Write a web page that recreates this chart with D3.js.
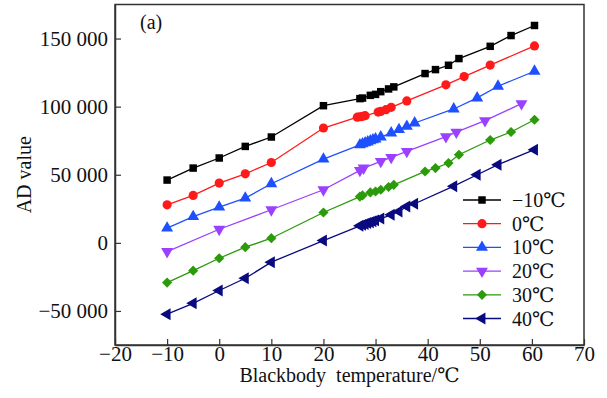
<!DOCTYPE html>
<html>
<head>
<meta charset="utf-8">
<script src="https://cdn.jsdelivr.net/npm/d3@7"></script>
<style>
  body { margin: 0; background: #fff; }
  text { font-family: "Liberation Serif", "Times New Roman", serif; }
  .deg { font-family: "DejaVu Serif", "Liberation Serif", serif; }
</style>
</head>
<body>
<div id="chart"></div>
<script>
// tick values and legend labels
var xTicks = [-20, -10, 0, 10, 20, 30, 40, 50, 60, 70];
var yTicks = [-50000, 0, 50000, 100000, 150000];
var seriesNames = ["−10", "0", "10", "20", "30", "40"];

// blackbody temperatures (x) per series
var xBlack = [-10, -5, 0, 5, 10, 20, 27, 27.5, 29, 30, 31, 32.5, 33.5, 39.5, 41.5, 44, 46, 52, 56, 60.5];
var xRed = [-10, -5, 0, 5, 10, 20, 26.5, 27, 27.5, 28, 30.5, 31, 32, 33, 36, 43.5, 47, 52, 60.5];
var xBlue = [-10, -5, 0, 5, 10, 20, 27, 27.5, 28, 28.5, 29, 29.5, 30, 31, 33, 34.5, 36, 37.5, 45, 49.5, 53.5, 60.5];
var xPurple = [-10, 0, 10, 20, 27, 27.7, 31, 33, 36, 43.5, 45.5, 51, 58];
var xGreen = xBlack;
var xNavy = xBlue;

// AD values per series
var yM10 = [46100, 54900, 62300, 70800, 77700, 100700, 105900, 106300, 108300, 109000, 111000, 113000, 114500, 124300, 127200, 130400, 135300, 144300, 152200, 159600];
var y0 = [27900, 34800, 43900, 50700, 59000, 84300, 92300, 92600, 92900, 93400, 96000, 96500, 97800, 99500, 104200, 116000, 122100, 130500, 144600];
var y10 = [10800, 19300, 26200, 32900, 43400, 61500, 72000, 72700, 73400, 74100, 74900, 75600, 76300, 77700, 80700, 83100, 85500, 88000, 98300, 106400, 115000, 126000];
var y20 = [-6400, 10000, 24300, 39000, 53200, 54900, 59800, 62700, 67100, 78000, 81300, 89700, 102200];
var y30 = [-29200, -20400, -11300, -3200, 3400, 22300, 34000, 34800, 37000, 37700, 39000, 41000, 42600, 52400, 54900, 58600, 64700, 75500, 81400, 90400];
var y40 = [-52400, -44400, -35000, -26000, -14200, 1700, 12500, 13200, 13800, 14500, 15200, 15800, 16500, 17800, 20600, 23000, 26700, 28700, 41600, 50000, 57400, 68400];

var svgWidth = 607;
var svgHeight = 398;
var margin = { top: 4.5, right: 23, bottom: 53, left: 115 };
var width = svgWidth - margin.left - margin.right;
var height = svgHeight - margin.top - margin.bottom;

var svg = d3.select("#chart")
  .append("svg")
  .attr("width", svgWidth)
  .attr("height", svgHeight);

var chartGroup = svg.append("g")
  .attr("transform", `translate(${margin.left}, ${margin.top})`);

var x = d3.scaleLinear().domain([-20, 70]).range([0, width]);
var y = d3.scaleLinear().domain([-75000, 175000]).range([height, 0]);

var loc = d3.formatLocale({ decimal: ".", thousands: " ", grouping: [3], currency: ["", ""], minus: "−" });
var fmt = loc.format(",d");

// frame
chartGroup.append("rect")
  .attr("width", width)
  .attr("height", height)
  .attr("fill", "none")
  .attr("stroke", "#333")
  .attr("stroke-width", 1.5);

// axes with inward ticks
var bottomAxis = d3.axisBottom(x).tickValues(xTicks).tickFormat(fmt).tickSizeInner(-6).tickSizeOuter(0).tickPadding(1.5);
var leftAxis = d3.axisLeft(y).tickValues(yTicks).tickFormat(fmt).tickSizeInner(-6).tickSizeOuter(0).tickPadding(7);

var xAxisG = chartGroup.append("g")
  .attr("transform", `translate(0, ${height})`)
  .call(bottomAxis);
var yAxisG = chartGroup.append("g").call(leftAxis);

[xAxisG, yAxisG].forEach(function(g) {
  g.select(".domain").attr("stroke", "#333").attr("stroke-width", 1.5);
  g.selectAll(".tick line").attr("stroke", "#333").attr("stroke-width", 1.2);
  g.selectAll("text")
    .attr("font-size", "21px")
    .attr("fill", "#111");
});

// degree sign helper: number in serif, ℃ in a font that has the glyph
function degText(sel, label) {
  sel.append("tspan").text(label);
  sel.append("tspan").attr("class", "deg").text("℃");
}

// axis titles
var xTitle = chartGroup.append("text")
  .attr("x", width / 2)
  .attr("y", 382 - margin.top)
  .attr("text-anchor", "middle")
  .attr("font-size", "20px")
  .attr("fill", "#111")
  .style("white-space", "pre");
degText(xTitle, "Blackbody  temperature/");

chartGroup.append("text")
  .attr("transform", "rotate(-90)")
  .attr("x", -height / 2)
  .attr("y", 31 - margin.left)
  .attr("text-anchor", "middle")
  .attr("font-size", "20px")
  .attr("fill", "#111")
  .text("AD value");

chartGroup.append("text")
  .attr("x", 140 - margin.left)
  .attr("y", 29 - margin.top)
  .attr("font-size", "20px")
  .attr("fill", "#111")
  .text("(a)");

// series
var series = [
  { name: seriesNames[0], xs: xBlack, ys: yM10, color: "#000000", sym: d3.symbolSquare, size: 56, rot: 0 },
  { name: seriesNames[1], xs: xRed, ys: y0, color: "#ff1a1a", sym: d3.symbolCircle, size: 66, rot: 0 },
  { name: seriesNames[2], xs: xBlue, ys: y10, color: "#1f50ff", sym: d3.symbolTriangle, size: 62, rot: 0 },
  { name: seriesNames[3], xs: xPurple, ys: y20, color: "#9b40ff", sym: d3.symbolTriangle, size: 62, rot: 180 },
  { name: seriesNames[4], xs: xGreen, ys: y30, color: "#2b9a0b", sym: d3.symbolSquare, size: 52, rot: 45 },
  { name: seriesNames[5], xs: xNavy, ys: y40, color: "#0a0a80", sym: d3.symbolTriangle, size: 62, rot: -90 }
];

var line = d3.line()
  .x(d => x(d[0]))
  .y(d => y(d[1]));

series.forEach(function(s) {
  var pts = s.xs.map((v, i) => [v, s.ys[i]]);
  chartGroup.append("path")
    .datum(pts)
    .attr("d", line)
    .attr("fill", "none")
    .attr("stroke", s.color)
    .attr("stroke-width", 1.3);

  chartGroup.selectAll(null)
    .data(pts)
    .enter()
    .append("path")
    .attr("d", d3.symbol().type(s.sym).size(s.size))
    .attr("transform", d => `translate(${x(d[0])}, ${y(d[1])}) rotate(${s.rot})`)
    .attr("fill", s.color);
});

// legend
var legend = svg.append("g").attr("transform", "translate(463, 200)");
series.forEach(function(s, i) {
  var row = legend.append("g").attr("transform", `translate(0, ${i * 23.7})`);
  row.append("line")
    .attr("x1", 0).attr("x2", 38)
    .attr("y1", 0).attr("y2", 0)
    .attr("stroke", s.color)
    .attr("stroke-width", 1.3);
  row.append("path")
    .attr("d", d3.symbol().type(s.sym).size(s.size))
    .attr("transform", `translate(19, 0) rotate(${s.rot})`)
    .attr("fill", s.color);
  var t = row.append("text")
    .attr("x", 49)
    .attr("y", 7)
    .attr("font-size", "20px")
    .attr("fill", "#111");
  degText(t, s.name);
});
</script>
</body>
</html>
